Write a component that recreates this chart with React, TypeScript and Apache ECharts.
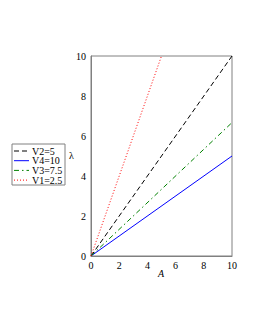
import React, { useEffect, useRef } from "react";
import * as echarts from "echarts";

const seriesNames = ["V2=5", "V4=10", "V3=7.5", "V1=2.5"];
const xEnds = [10, 10, 10, 5];
const yEnds = [10, 5, 6.67, 10];
const colors = ["#000000", "#0000ff", "#008000", "#ff0000"];

export default function App() {
  const ref = useRef<HTMLDivElement>(null);
  useEffect(() => {
    const chart = echarts.init(ref.current!, null, { renderer: "svg" });
    const lineTypes: any[] = [[5, 3], "solid", [5, 3, 1.5, 3], [1, 2]];
    const font = "Liberation Serif";
    const legendTop = 144;
    const rowH = 9.7;
    const legendItems: any[] = [];
    seriesNames.forEach((n, i) => {
      const cy = legendTop + 7 + i * rowH;
      legendItems.push({
        type: "line",
        shape: { x1: 14, y1: cy, x2: 29, y2: cy },
        style: {
          stroke: colors[i],
          lineWidth: 1,
          lineDash: Array.isArray(lineTypes[i]) ? lineTypes[i] : null,
        },
      });
      legendItems.push({
        type: "text",
        x: 32,
        y: cy,
        style: {
          text: n,
          font: `10px ${font}`,
          fill: "#000",
          textVerticalAlign: "middle",
          verticalAlign: "middle",
        },
      });
    });
    chart.setOption({
      animation: false,
      textStyle: { fontFamily: font },
      grid: {
        left: 91,
        right: 23,
        top: 56,
        bottom: 74,
        show: true,
        borderColor: "#808080",
        borderWidth: 1,
      },
      graphic: [
        {
          type: "rect",
          shape: { x: 12, y: legendTop, width: 53, height: 41 },
          style: { fill: "#fff", stroke: "#808080", lineWidth: 1 },
        },
        ...legendItems,
        {
          type: "text",
          x: 71.5,
          y: 155,
          style: {
            text: "λ",
            font: `10px ${font}`,
            fill: "#000",
            align: "center",
            verticalAlign: "middle",
          },
        },
        {
          type: "text",
          x: 161,
          y: 273,
          style: {
            text: "A",
            font: `italic 10px ${font}`,
            fill: "#000",
            align: "center",
            verticalAlign: "middle",
          },
        },
      ],
      xAxis: {
        type: "value",
        min: 0,
        max: 10,
        interval: 2,
        axisLine: { show: true, lineStyle: { color: "#808080" } },
        axisTick: { show: false },
        splitLine: { show: false },
        axisLabel: { fontFamily: font, fontSize: 10, color: "#000", margin: 4 },
      },
      yAxis: {
        type: "value",
        min: 0,
        max: 10,
        interval: 2,
        axisLine: { show: true, lineStyle: { color: "#808080" } },
        axisTick: { show: false },
        splitLine: { show: false },
        axisLabel: { fontFamily: font, fontSize: 10, color: "#000", margin: 5 },
      },
      series: seriesNames.map((n, i) => ({
        name: n,
        type: "line",
        showSymbol: false,
        symbol: "none",
        data: [
          [0, 0],
          [xEnds[i], yEnds[i]],
        ],
        color: colors[i],
        lineStyle: { color: colors[i], width: 1, type: lineTypes[i] },
      })),
    });
    return () => chart.dispose();
  }, []);
  return <div ref={ref} style={{ width: 255, height: 330, margin: -8 }} />;
}
